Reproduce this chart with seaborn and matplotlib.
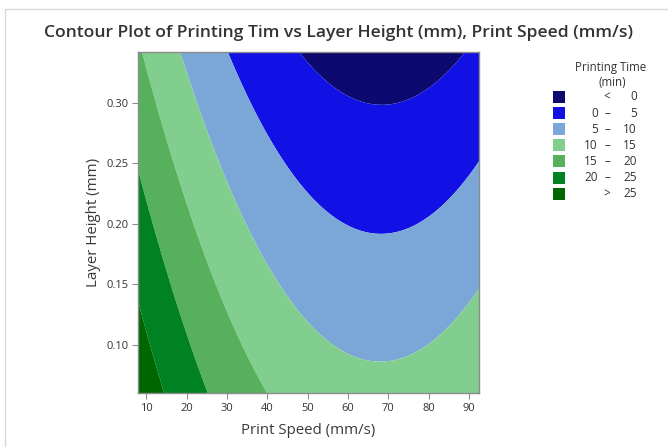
import numpy as np
import pandas as pd
import matplotlib
matplotlib.use("Agg")
import matplotlib.pyplot as plt
from matplotlib.patches import Rectangle
from matplotlib.lines import Line2D
import seaborn as sns

# ---- data: points on each contour boundary ----
level0_speed = [47.8, 50.5, 67.8, 88.3]
level0_height = [0.342, 0.328, 0.298, 0.342]
level5_speed = [30.0, 49.0, 57.9, 67.5, 79.4, 92.5]
level5_height = [0.342, 0.232, 0.201, 0.191, 0.201, 0.251]
level10_speed = [18.6, 34.2, 52.0, 67.5, 92.5]
level10_height = [0.342, 0.201, 0.119, 0.084, 0.148]
level15_speed = [9.0, 21.9, 30.0, 39.6]
level15_height = [0.342, 0.198, 0.133, 0.060]
level20_speed = [7.9, 12.0, 25.1]
level20_height = [0.241, 0.198, 0.060]
level25_speed = [7.9, 14.4]
level25_height = [0.134, 0.060]

contour_levels = [0, 5, 10, 15, 20, 25]
legend_left = ["", "0", "5", "10", "15", "20", ""]
legend_mid = ["<", "–", "–", "–", "–", "–", ">"]
legend_right = ["0", "5", "10", "15", "20", "25", "25"]
band_colors = ["#0C0A6E", "#1111E6", "#7BA7D8", "#82CE8F", "#57B05C", "#008223", "#006600"]

x_ticks = [10, 20, 30, 40, 50, 60, 70, 80, 90]
y_ticks = [0.10, 0.15, 0.20, 0.25, 0.30]
speed_range = (7.9, 92.5)
height_range = (0.0603, 0.342)

# ---- fit a quadratic response surface to the read boundary points ----
pts = []
for lv, xs, ys in zip(contour_levels,
                      [level0_speed, level5_speed, level10_speed, level15_speed, level20_speed, level25_speed],
                      [level0_height, level5_height, level10_height, level15_height, level20_height, level25_height]):
    for a, b in zip(xs, ys):
        pts.append((a, b, lv))
df = pd.DataFrame(pts, columns=["speed", "height", "time"])
X = np.column_stack([np.ones(len(df)), df.speed, df.speed ** 2, df.height,
                     df.height ** 2, df.speed * df.height])
coef, *_ = np.linalg.lstsq(X, df.time.values, rcond=None)

gx = np.linspace(*speed_range, 400)
gy = np.linspace(*height_range, 400)
GX, GY = np.meshgrid(gx, gy)
GZ = (coef[0] + coef[1] * GX + coef[2] * GX ** 2 + coef[3] * GY
      + coef[4] * GY ** 2 + coef[5] * GX * GY)

# ---- drawing ----
sns.set_theme(style="white")
plt.rcParams["font.family"] = ["Open Sans", "DejaVu Sans"]
text_col = "#333333"

fig = plt.figure(figsize=(6.68, 4.47), dpi=100)
ax = fig.add_axes([138 / 668, 1 - 393 / 447, (479 - 138) / 668, (393 - 52) / 447])

bounds = [-1000] + contour_levels + [1000]
ax.contourf(GX, GY, GZ, levels=bounds, colors=band_colors, antialiased=True)

ax.set_xlim(*speed_range)
ax.set_ylim(*height_range)
ax.set_xticks(x_ticks)
ax.set_yticks(y_ticks)
ax.set_yticklabels([f"{v:.2f}" for v in y_ticks])
ax.tick_params(axis="both", direction="out", length=4, width=0.8, color="#8c8c8c",
               labelsize=8, labelcolor=text_col, pad=3, bottom=True, left=True)
for s in ax.spines.values():
    s.set_color("#8c8c8c")
    s.set_linewidth(1.0)

ax.set_xlabel("Print Speed (mm/s)", fontsize=10.8, color="#3a3a3a", labelpad=7)
ax.set_ylabel("Layer Height (mm)", fontsize=10.8, color="#3a3a3a", labelpad=4)

fig.text(339 / 668, 1 - 33 / 447,
         "Contour Plot of Printing Tim vs Layer Height (mm), Print Speed (mm/s)",
         ha="center", va="center", fontsize=12.6, fontweight="semibold", color="#333333")

# legend drawn manually in figure pixels
def fx(px):
    return px / 668

def fy(py):
    return 1 - py / 447

fig.text(fx(611), fy(67), "Printing Time", ha="center", va="center", fontsize=8.3, color=text_col)
fig.text(fx(612), fy(82), "(min)", ha="center", va="center", fontsize=8.3, color=text_col)
for i, c in enumerate(band_colors):
    cy = 97 + i * 16.1
    fig.patches.append(Rectangle((fx(552.5), fy(cy + 6)), 12.5 / 668, 12 / 447,
                                 transform=fig.transFigure, facecolor=c, edgecolor="none"))
    fig.text(fx(598), fy(cy), legend_left[i], ha="right", va="center", fontsize=8.5, color=text_col)
    fig.text(fx(607), fy(cy), legend_mid[i], ha="center", va="center", fontsize=8.5, color=text_col)
    fig.text(fx(637), fy(cy), legend_right[i], ha="right", va="center", fontsize=8.5, color=text_col)

# outer light frame
fig.lines.append(Line2D([fx(5), fx(5)], [fy(447), fy(9)], transform=fig.transFigure,
                        color="#d9d9d9", linewidth=1.0))
fig.lines.append(Line2D([fx(5), fx(668)], [fy(9), fy(9)], transform=fig.transFigure,
                        color="#d9d9d9", linewidth=1.0))

fig.savefig("out.png", dpi=100)
